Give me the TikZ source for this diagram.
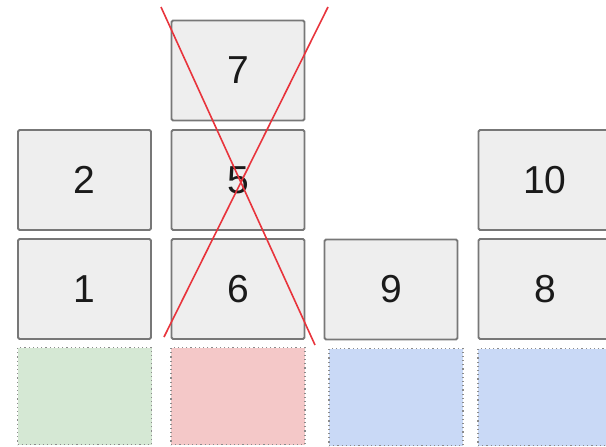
\documentclass[tikz,border=0pt]{standalone}
\usepackage{fontspec}
\setmainfont{Liberation Sans}
\definecolor{boxfill}{HTML}{EEEEEE}
\definecolor{boxline}{HTML}{777777}
\definecolor{gfill}{HTML}{D5E8D4}
\definecolor{rfill}{HTML}{F4C8C8}
\definecolor{bfill}{HTML}{C9D9F6}
\definecolor{crossred}{HTML}{E8343C}
\definecolor{txt}{HTML}{1A1A1A}
\tikzset{
  blk/.style={draw=boxline, fill=boxfill, line width=1.9pt, rounded corners=1.5pt,
    minimum width=133pt, minimum height=100pt, inner sep=0pt, text=txt,
    font=\fontsize{39}{39}\selectfont},
  slot/.style={draw=boxline!85, line width=1.6pt, dash pattern=on 1.2pt off 3pt,
    minimum width=134pt, minimum height=97pt, inner sep=0pt},
  crossline/.style={draw=crossred, line width=1.6pt}
}
\begin{document}
\begin{tikzpicture}[x=1pt,y=-1pt]
\useasboundingbox (0,0) rectangle (606,447);
\clip (0,0) rectangle (606,447);
\node[blk] (b7) at (238,70.5) {7};
\node[blk] (b2) at (84.5,180) {2};
\node[blk] (b5) at (238,180) {5};
\node[blk] (b10) at (545,180) {10};
\node[blk] (b1) at (84.5,289) {1};
\node[blk] (b6) at (238,289) {6};
\node[blk] (b9) at (391,289.5) {9};
\node[blk] (b8) at (545,289) {8};
\node[slot, fill=gfill] (s1) at (84.5,396) {};
\node[slot, fill=rfill] (s2) at (238,396) {};
\node[slot, fill=bfill] (s3) at (396,397) {};
\node[slot, fill=bfill] (s4) at (545,397) {};
\coordinate (c1a) at (161,7);
\coordinate (c1b) at (315,345);
\coordinate (c2a) at (328,7);
\coordinate (c2b) at (164,337);
\draw[crossline] (c1a) -- (c1b);
\draw[crossline] (c2a) -- (c2b);
\end{tikzpicture}
\end{document}
